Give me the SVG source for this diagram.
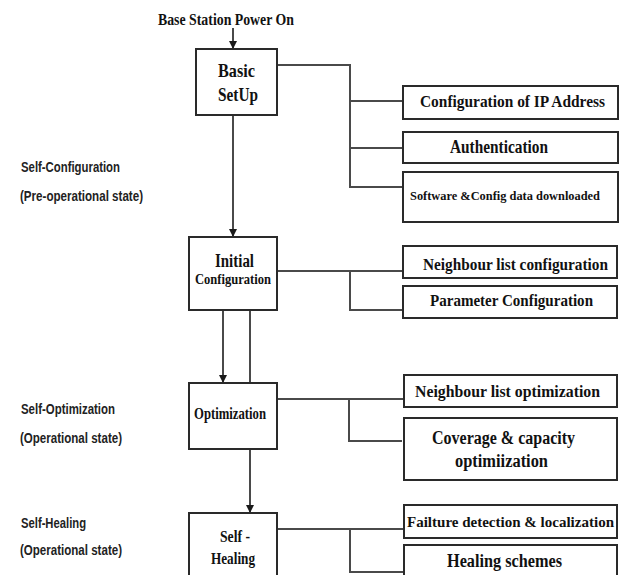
<svg xmlns="http://www.w3.org/2000/svg" width="621" height="575" viewBox="0 0 621 575">
<style>
.box{fill:#fff;stroke:#2a2a2a;stroke-width:2}
.ln{fill:none;stroke:#4a4a4a;stroke-width:2}
.t{font-family:"Liberation Serif","Times New Roman",serif;font-weight:bold;fill:#111}
.s{font-family:"Liberation Sans",Arial,sans-serif;font-weight:bold;fill:#222}
</style>
<defs>
<marker id="ah" viewBox="0 0 8 10" refX="8" refY="5" markerWidth="8" markerHeight="10" markerUnits="userSpaceOnUse" orient="auto">
<path d="M0,1 L8,5 L0,9 Z" fill="#1a1a1a"/>
</marker>
</defs>
<rect width="621" height="575" fill="#fff"/>

<g id="connectors">
<line class="ln" x1="233" y1="28" x2="233" y2="49" marker-end="url(#ah)"/>
<line class="ln" x1="233" y1="115" x2="233" y2="237" marker-end="url(#ah)"/>
<line class="ln" x1="223" y1="310" x2="223" y2="383" marker-end="url(#ah)"/>
<line class="ln" x1="250" y1="310" x2="250" y2="383"/>
<line class="ln" x1="250" y1="449" x2="250" y2="513" marker-end="url(#ah)"/>
<polyline class="ln" points="277,65 350,65 350,187 403,187"/>
<line class="ln" x1="350" y1="101" x2="403" y2="101"/>
<line class="ln" x1="350" y1="148" x2="403" y2="148"/>
<line class="ln" x1="277" y1="271" x2="403" y2="271"/>
<polyline class="ln" points="350,271 350,310 403,310"/>
<line class="ln" x1="277" y1="399" x2="404" y2="399"/>
<polyline class="ln" points="349,399 349,441 402,441"/>
<line class="ln" x1="277" y1="529" x2="404" y2="529"/>
<polyline class="ln" points="350,529 350,572 404,572"/>
</g>

<g id="start">
<text class="t" x="158" y="25" font-size="16" textLength="136" lengthAdjust="spacingAndGlyphs">Base Station Power On</text>
</g>

<g id="basic">
<rect class="box" x="196" y="49" width="81" height="66"/>
<text class="t" x="218" y="77" font-size="19" textLength="37" lengthAdjust="spacingAndGlyphs">Basic</text>
<text class="t" x="218" y="101" font-size="19" textLength="40" lengthAdjust="spacingAndGlyphs">SetUp</text>
</g>

<g id="ip">
<rect class="box" x="403" y="86" width="215" height="33"/>
<text class="t" x="420" y="107" font-size="16" textLength="185" lengthAdjust="spacingAndGlyphs">Configuration of IP Address</text>
</g>

<g id="auth">
<rect class="box" x="403" y="132" width="215" height="31"/>
<text class="t" x="450" y="153" font-size="18" textLength="98" lengthAdjust="spacingAndGlyphs">Authentication</text>
</g>

<g id="software">
<rect class="box" x="403" y="172" width="215" height="50"/>
<text class="t" x="410" y="200" font-size="13" textLength="190" lengthAdjust="spacingAndGlyphs">Software &amp;Config data downloaded</text>
</g>

<g id="initial">
<rect class="box" x="189" y="237" width="88" height="73"/>
<text class="t" x="215" y="267" font-size="18" textLength="39" lengthAdjust="spacingAndGlyphs">Initial</text>
<text class="t" x="195" y="284" font-size="15" textLength="76" lengthAdjust="spacingAndGlyphs">Configuration</text>
</g>

<g id="nlconf">
<rect class="box" x="403" y="246" width="214" height="32"/>
<text class="t" x="423" y="270" font-size="16" textLength="185" lengthAdjust="spacingAndGlyphs">Neighbour list configuration</text>
</g>

<g id="param">
<rect class="box" x="403" y="286" width="214" height="32"/>
<text class="t" x="430" y="306" font-size="16" textLength="163" lengthAdjust="spacingAndGlyphs">Parameter Configuration</text>
</g>

<g id="optimization">
<rect class="box" x="189" y="383" width="88" height="66"/>
<text class="t" x="194" y="419" font-size="16" textLength="72" lengthAdjust="spacingAndGlyphs">Optimization</text>
</g>

<g id="nlopt">
<rect class="box" x="404" y="375" width="213" height="32"/>
<text class="t" x="415" y="397" font-size="16" textLength="185" lengthAdjust="spacingAndGlyphs">Neighbour list optimization</text>
</g>

<g id="coverage">
<rect class="box" x="404" y="418" width="213" height="62"/>
<text class="t" x="432" y="444" font-size="18" textLength="143" lengthAdjust="spacingAndGlyphs">Coverage &amp; capacity</text>
<text class="t" x="455" y="467" font-size="18" textLength="93" lengthAdjust="spacingAndGlyphs">optimiization</text>
</g>

<g id="selfhealing">
<rect class="box" x="189" y="513" width="88" height="70"/>
<text class="t" x="220" y="542" font-size="17" textLength="30" lengthAdjust="spacingAndGlyphs">Self -</text>
<text class="t" x="211" y="564" font-size="17" textLength="44" lengthAdjust="spacingAndGlyphs">Healing</text>
</g>

<g id="failure">
<rect class="box" x="404" y="505" width="213" height="33"/>
<text class="t" x="407" y="527" font-size="14.5" textLength="207" lengthAdjust="spacingAndGlyphs">Failture detection &amp; localization</text>
</g>

<g id="healingschemes">
<rect class="box" x="404" y="545" width="213" height="40"/>
<text class="t" x="447" y="567" font-size="18" textLength="115" lengthAdjust="spacingAndGlyphs">Healing schemes</text>
</g>

<g id="labels">
<text class="s" x="21" y="172" font-size="14" textLength="99" lengthAdjust="spacingAndGlyphs">Self-Configuration</text>
<text class="s" x="20" y="201" font-size="14" textLength="123" lengthAdjust="spacingAndGlyphs">(Pre-operational state)</text>
<text class="s" x="21" y="414" font-size="14" textLength="94" lengthAdjust="spacingAndGlyphs">Self-Optimization</text>
<text class="s" x="20" y="443" font-size="14" textLength="102" lengthAdjust="spacingAndGlyphs">(Operational state)</text>
<text class="s" x="21" y="528" font-size="14" textLength="65" lengthAdjust="spacingAndGlyphs">Self-Healing</text>
<text class="s" x="20" y="555" font-size="14" textLength="102" lengthAdjust="spacingAndGlyphs">(Operational state)</text>
</g>
</svg>
